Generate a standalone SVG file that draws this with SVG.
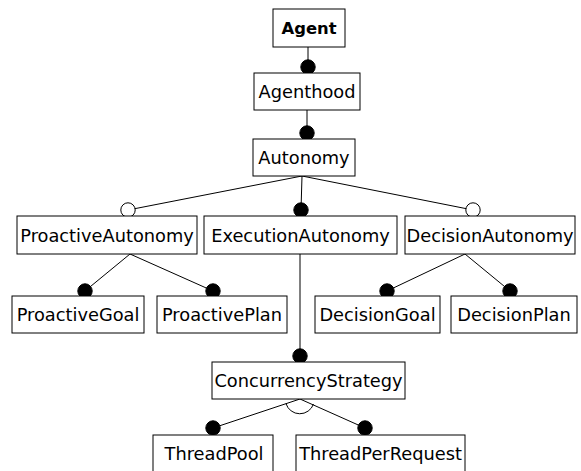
<svg xmlns="http://www.w3.org/2000/svg" width="581" height="471" viewBox="0 0 581 471">
  <style>
    .box { fill: #ffffff; stroke: #000000; stroke-width: 1; }
    .lbl { font-family: "DejaVu Sans", Verdana, sans-serif; font-size: 17.8px; fill: #000000; text-anchor: middle; }
    .root { font-weight: bold; font-size: 16.4px; }
    .edge { stroke: #000000; stroke-width: 1; fill: none; }
    .mand { fill: #000000; stroke: #000000; stroke-width: 1; }
    .opt { fill: #ffffff; stroke: #000000; stroke-width: 1; }
  </style>
  <rect width="581" height="471" fill="#ffffff"/>

  <!-- connectors -->
  <g id="connectors">
    <line class="edge" x1="308" y1="47" x2="308" y2="67"/>
    <line class="edge" x1="307" y1="110" x2="307" y2="133"/>
    <line class="edge" x1="302" y1="176" x2="128" y2="210"/>
    <line class="edge" x1="302" y1="176" x2="301" y2="210"/>
    <line class="edge" x1="302" y1="176" x2="473" y2="210"/>
    <line class="edge" x1="130" y1="254" x2="85" y2="291"/>
    <line class="edge" x1="130" y1="254" x2="213" y2="291"/>
    <line class="edge" x1="465" y1="254" x2="387" y2="291"/>
    <line class="edge" x1="465" y1="254" x2="510" y2="291"/>
    <line class="edge" x1="300" y1="254" x2="300" y2="356"/>
    <line class="edge" x1="300" y1="399" x2="213" y2="428"/>
    <line class="edge" x1="300" y1="399" x2="365" y2="428"/>
    <!-- alternative arc between ThreadPool and ThreadPerRequest -->
    <path class="edge" d="M 286 403.7 A 14.5 14.5 0 0 0 313.5 404"/>

    <circle class="mand" cx="308" cy="67" r="7.2"/>
    <circle class="mand" cx="307" cy="133" r="7.2"/>
    <circle class="opt" cx="128" cy="210" r="7.2"/>
    <circle class="mand" cx="301" cy="210" r="7.2"/>
    <circle class="opt" cx="473" cy="210" r="7.2"/>
    <circle class="mand" cx="85" cy="291" r="7.2"/>
    <circle class="mand" cx="213" cy="291" r="7.2"/>
    <circle class="mand" cx="387" cy="291" r="7.2"/>
    <circle class="mand" cx="510" cy="291" r="7.2"/>
    <circle class="mand" cx="300" cy="356" r="7.2"/>
    <circle class="mand" cx="213" cy="428" r="7.2"/>
    <circle class="mand" cx="365" cy="428" r="7.2"/>
  </g>

  <g id="agent">
    <rect class="box" x="273" y="9" width="72" height="38"/>
    <text class="lbl root" x="309" y="34">Agent</text>
  </g>
  <g id="agenthood">
    <rect class="box" x="254" y="73" width="106" height="37"/>
    <text class="lbl" x="307" y="98">Agenthood</text>
  </g>
  <g id="autonomy">
    <rect class="box" x="253" y="139" width="102" height="37"/>
    <text class="lbl" x="304" y="164">Autonomy</text>
  </g>
  <g id="proactive-autonomy">
    <rect class="box" x="17" y="216" width="180" height="38"/>
    <text class="lbl" x="107" y="241.5">ProactiveAutonomy</text>
  </g>
  <g id="execution-autonomy">
    <rect class="box" x="204" y="216" width="193" height="38"/>
    <text class="lbl" x="300.5" y="241.5">ExecutionAutonomy</text>
  </g>
  <g id="decision-autonomy">
    <rect class="box" x="405" y="216" width="170" height="38"/>
    <text class="lbl" x="490" y="241.5">DecisionAutonomy</text>
  </g>
  <g id="proactive-goal">
    <rect class="box" x="12" y="296" width="132" height="37"/>
    <text class="lbl" x="78" y="321">ProactiveGoal</text>
  </g>
  <g id="proactive-plan">
    <rect class="box" x="157" y="296" width="130" height="37"/>
    <text class="lbl" x="222" y="321">ProactivePlan</text>
  </g>
  <g id="decision-goal">
    <rect class="box" x="315" y="296" width="125" height="37"/>
    <text class="lbl" x="377.5" y="321">DecisionGoal</text>
  </g>
  <g id="decision-plan">
    <rect class="box" x="451" y="296" width="126" height="37"/>
    <text class="lbl" x="514" y="321">DecisionPlan</text>
  </g>
  <g id="concurrency-strategy">
    <rect class="box" x="212" y="362" width="193" height="37"/>
    <text class="lbl" x="308.5" y="387">ConcurrencyStrategy</text>
  </g>
  <g id="thread-pool">
    <rect class="box" x="153" y="435" width="120" height="40"/>
    <text class="lbl" x="214" y="460">ThreadPool</text>
  </g>
  <g id="thread-per-request">
    <rect class="box" x="296" y="435" width="169" height="40"/>
    <text class="lbl" x="380.5" y="460">ThreadPerRequest</text>
  </g>
</svg>
